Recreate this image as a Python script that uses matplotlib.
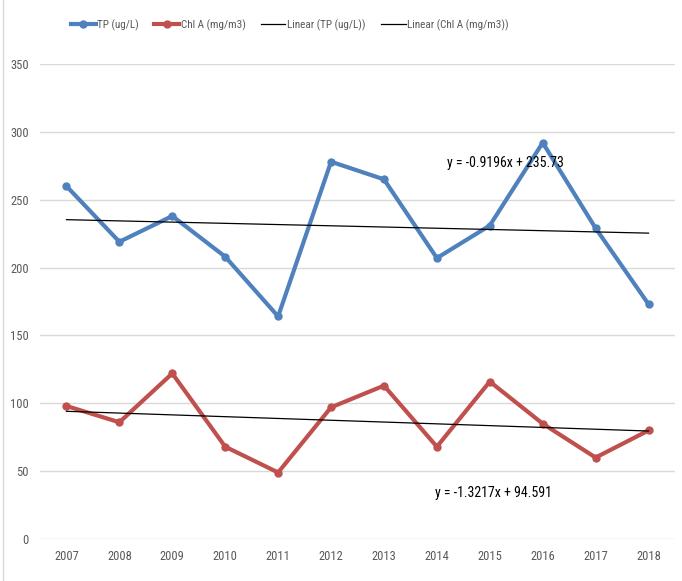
import numpy as np
import matplotlib.pyplot as plt
from matplotlib import font_manager

years = ['2007', '2008', '2009', '2010', '2011', '2012',
         '2013', '2014', '2015', '2016', '2017', '2018']
tp = [260, 219, 238, 208, 164, 278, 265, 207, 231, 292, 229, 173]
chla = [98, 86, 122, 68, 49, 97, 113, 68, 116, 85, 60, 80]
tp_eq = 'y = -0.9196x + 235.73'
chla_eq = 'y = -1.3217x + 94.591'

names = {f.name for f in font_manager.fontManager.ttflist}
fam = 'DejaVu Sans'
for cand in ['Liberation Sans Narrow', 'Roboto Condensed', 'Liberation Sans']:
    if cand in names:
        fam = cand
        break
plt.rcParams['font.family'] = [fam, 'DejaVu Sans']

grey = '#595959'
fig = plt.figure(figsize=(6.82, 5.81), dpi=100)
ax = fig.add_axes([40 / 682, 42 / 581, 635 / 682, 475 / 581])

x = np.arange(len(years))
ax.plot(x, tp, color='#4f81bd', lw=3.0, marker='o', ms=5, label='TP (ug/L)', zorder=3)
ax.plot(x, chla, color='#c0504d', lw=3.0, marker='o', ms=5, label='Chl A (mg/m3)', zorder=3)

# linear trend lines (Excel style, x = 1..n)
xn = x + 1
for vals, lab in [(tp, 'Linear (TP (ug/L))'), (chla, 'Linear (Chl A (mg/m3))')]:
    k, b = np.polyfit(xn, vals, 1)
    ax.plot(x, k * xn + b, color='black', lw=0.9, label=lab, zorder=4)

ax.text(0.641, 0.792, tp_eq, transform=ax.transAxes, fontsize=10, va='center', color='black')
ax.text(0.622, 0.097, chla_eq, transform=ax.transAxes, fontsize=10, va='center', color='black')

ax.set_xlim(-0.5, len(years) - 0.5)
ax.set_ylim(0, 350)
ax.set_yticks(range(0, 351, 50))
ax.set_xticks(x)
ax.set_xticklabels(years)
ax.grid(axis='y', color='#d9d9d9', lw=1)
ax.set_axisbelow(True)
for s in ax.spines.values():
    s.set_visible(False)
ax.tick_params(length=0, colors=grey, labelsize=9, pad=8)

fig.legend(loc='center', bbox_to_anchor=(290 / 682, 1 - 25 / 581), ncol=4, frameon=False,
           fontsize=8, labelcolor=grey, handlelength=2.2, columnspacing=1.4, handletextpad=0.15)

# outer chart border
fig.add_artist(plt.Line2D([3 / 682, 3 / 682], [0, 1], color='#d9d9d9', lw=1))

fig.savefig('out.png', dpi=100)
